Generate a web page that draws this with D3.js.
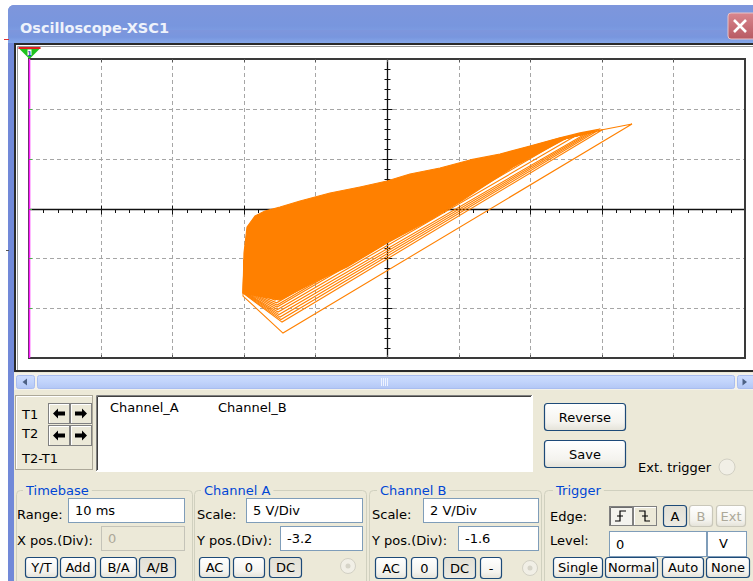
<!DOCTYPE html>
<html>
<head>
<meta charset="utf-8">
<title>Oscilloscope-XSC1</title>
<script src="https://cdn.jsdelivr.net/npm/d3@7"></script>
<style>
  html, body { margin: 0; padding: 0; background: #ffffff; }
  svg { display: block; font-family: "DejaVu Sans", Verdana, sans-serif; }
</style>
</head>
<body>
<svg id="scope" width="753" height="581"></svg>
<script>
// ---- screen graticule (divisions) ----
const xDivs = [-5, -4, -3, -2, -1, 0, 1, 2, 3, 4, 5];
const yDivs = [-3, -2, -1, 0, 1, 2, 3];

// ---- A/B trace, in divisions ----
// outline of the band where the sweeps overlap into a solid area
const bandX = [-1.955, -1.844, -1.704, -1.494, -1.215, -0.796, -0.377, 0.000, 0.321, 0.740, 1.159, 1.578, 1.997, 2.416, 2.696, 2.975,
               2.514, 1.760, 1.061, 0.601, 0.000, -0.559, -1.034, -1.494, -2.011, -1.997];
const bandY = [-0.371, -0.151, -0.050, 0.030, 0.151, 0.311, 0.432, 0.552, 0.693, 0.813, 0.974, 1.094, 1.255, 1.416, 1.516, 1.596,
               1.416, 0.833, 0.171, -0.231, -0.693, -1.175, -1.496, -1.837, -1.697, -0.894];

// separate sweeps: left edge top, left edge bottom, lowest corner, peak, return point, back to start
const sweepX = [
  [-1.997, -2.011, -1.453, 3.422, 2.416, -1.955],
  [-1.997, -2.011, -1.466, 3.003, 2.416, -1.955],
  [-1.995, -2.008, -1.480, 2.933, 2.400, -1.955],
  [-1.990, -2.004, -1.494, 2.877, 2.380, -1.955],
  [-1.990, -2.004, -1.508, 2.835, 2.370, -1.955],
  [-1.990, -2.004, -1.522, 2.793, 2.350, -1.955],
  [-1.988, -2.002, -1.529, 2.654, 2.320, -1.955],
  [-1.985, -2.000, -1.536, 2.514, 2.300, -1.955],
  [-1.985, -1.999, -1.536, 2.444, 2.250, -1.955],
  [-1.985, -1.997, -1.541, 2.370, 2.200, -1.955],
  [-1.980, -1.995, -1.564, 2.230, 2.100, -1.955],
  [-1.980, -1.990, -1.588, 1.997, 1.900, -1.955]
];
const sweepY = [
  [-1.034, -1.757, -2.500, 1.697, 1.416, -0.371],
  [-1.034, -1.697, -2.279, 1.576, 1.376, -0.371],
  [-1.020, -1.690, -2.229, 1.556, 1.370, -0.371],
  [-1.000, -1.680, -2.179, 1.536, 1.360, -0.371],
  [-0.990, -1.670, -2.129, 1.526, 1.355, -0.371],
  [-0.980, -1.660, -2.078, 1.516, 1.350, -0.371],
  [-0.970, -1.650, -2.028, 1.476, 1.340, -0.371],
  [-0.960, -1.640, -1.978, 1.436, 1.330, -0.371],
  [-0.955, -1.630, -1.938, 1.416, 1.310, -0.371],
  [-0.950, -1.620, -1.892, 1.375, 1.290, -0.371],
  [-0.940, -1.600, -1.837, 1.321, 1.250, -0.371],
  [-0.930, -1.580, -1.771, 1.241, 1.180, -0.371]
];

// ---- instrument settings shown in the panel ----
const timebase = { range: "10 ms", xpos: "0" };
const channelA = { scale: "5  V/Div", ypos: "-3.2" };
const channelB = { scale: "2  V/Div", ypos: "-1.6" };
const trigger  = { level: "0", unit: "V" };
const readoutCols = ["Channel_A", "Channel_B"];

const svg = d3.select("#scope");
const defs = svg.append("defs");

function vGrad(id, stops) {
  const g = defs.append("linearGradient").attr("id", id).attr("x1", 0).attr("y1", 0).attr("x2", 0).attr("y2", 1);
  stops.forEach(s => g.append("stop").attr("offset", s[0]).attr("stop-color", s[1]));
}
vGrad("title", [[0, "#7e96dc"], [0.55, "#7896de"], [1, "#86a8ea"]]);
vGrad("btn", [[0, "#ffffff"], [0.7, "#f4f3ee"], [1, "#e4e2d8"]]);
vGrad("btnDown", [[0, "#e2e0d6"], [1, "#eceae2"]]);
vGrad("scroll", [[0, "#cddcfd"], [0.5, "#c1d3fb"], [1, "#b3c7f5"]]);
vGrad("closeBtn", [[0, "#d9868e"], [1, "#b85a63"]]);

// ---- window chrome ----
svg.append("rect").attr("x", 8).attr("y", 5).attr("width", 760).attr("height", 590).attr("rx", 6).attr("fill", "#7189d8");
svg.append("rect").attr("x", 8).attr("y", 5).attr("width", 760).attr("height", 38).attr("rx", 6).attr("fill", "url(#title)");
svg.append("rect").attr("x", 8).attr("y", 30).attr("width", 760).attr("height", 13).attr("fill", "url(#title)");
svg.append("text").attr("x", 20).attr("y", 33).attr("fill", "#eef2fb")
  .attr("font-size", 14.5).attr("font-weight", "bold").text("Oscilloscope-XSC1");
// close box
svg.append("rect").attr("x", 728).attr("y", 13).attr("width", 28).attr("height", 26).attr("rx", 3)
  .attr("fill", "url(#closeBtn)").attr("stroke", "#e8c4c8").attr("stroke-width", 1);
svg.append("path").attr("d", "M734,20 L746,32 M746,20 L734,32").attr("stroke", "#ffffff").attr("stroke-width", 2.6);
// small marks outside the window
svg.append("line").attr("x1", 4).attr("x2", 9).attr("y1", 39.5).attr("y2", 39.5).attr("stroke", "#e03030");
svg.append("line").attr("x1", 6).attr("x2", 9).attr("y1", 250.5).attr("y2", 250.5).attr("stroke", "#555");

// client area
svg.append("rect").attr("x", 14).attr("y", 43).attr("width", 745).attr("height", 545).attr("fill", "#ece9d8");

// ---- display frame ----
svg.append("rect").attr("x", 15).attr("y", 44).attr("width", 745).attr("height", 327)
  .attr("fill", "#ffffff").attr("stroke", "#2a2a2a").attr("stroke-width", 2);
svg.append("path").attr("d", "M17.5,370 V46.5 H760").attr("fill", "none").attr("stroke", "#9a9a9a").attr("stroke-width", 1);

const x = d3.scaleLinear().domain([-5, 5]).range([29, 745]);
const y = d3.scaleLinear().domain([-3, 3]).range([358, 59]);

const plot = svg.append("g");

// dashed graticule
plot.selectAll("line.gx").data(xDivs.filter(d => Math.abs(d) < 5 && d !== 0)).join("line")
  .attr("x1", d => Math.round(x(d)) + 0.5).attr("x2", d => Math.round(x(d)) + 0.5)
  .attr("y1", y(3)).attr("y2", y(-3))
  .attr("stroke", "#a6a6a6").attr("stroke-dasharray", "4,3");
plot.selectAll("line.gy").data(yDivs.filter(d => Math.abs(d) < 3 && d !== 0)).join("line")
  .attr("y1", d => Math.round(y(d)) + 0.5).attr("y2", d => Math.round(y(d)) + 0.5)
  .attr("x1", x(-5)).attr("x2", x(5))
  .attr("stroke", "#a6a6a6").attr("stroke-dasharray", "4,3");

// centre axes with minor ticks every 0.2 division
const isMajor = d => Math.abs(d - Math.round(d)) < 1e-6;
const x0 = Math.round(x(0)) + 0.5, y0 = Math.round(y(0)) + 0.5;
plot.append("line").attr("x1", x(-5)).attr("x2", x(5)).attr("y1", y0).attr("y2", y0).attr("stroke", "#111").attr("stroke-width", 1.3);
plot.append("line").attr("x1", x0).attr("x2", x0).attr("y1", y(3)).attr("y2", y(-3)).attr("stroke", "#111").attr("stroke-width", 1.3);
const minorX = d3.range(-25, 26).map(i => i / 5);
const minorY = d3.range(-15, 16).map(i => i / 5);
plot.selectAll("line.tx").data(minorX).join("line")
  .attr("x1", d => Math.round(x(d)) + 0.5).attr("x2", d => Math.round(x(d)) + 0.5)
  .attr("y1", d => isMajor(d) ? y0 - 4 : y0)
  .attr("y2", d => isMajor(d) ? y0 + 5 : y0 + 3.5)
  .attr("stroke", "#111");
plot.selectAll("line.ty").data(minorY).join("line")
  .attr("y1", d => Math.round(y(d)) + 0.5).attr("y2", d => Math.round(y(d)) + 0.5)
  .attr("x1", d => isMajor(d) ? x0 - 5 : x0 - 3)
  .attr("x2", d => isMajor(d) ? x0 + 5 : x0 + 3)
  .attr("stroke", "#111");

// frame with small division marks
plot.append("rect").attr("x", x(-5)).attr("y", y(3)).attr("width", x(5) - x(-5)).attr("height", y(-3) - y(3))
  .attr("fill", "none").attr("stroke", "#3a3a3a").attr("stroke-width", 2);
plot.selectAll("line.fx").data(xDivs.slice(1, -1)).join("line")
  .attr("x1", d => Math.round(x(d)) + 0.5).attr("x2", d => Math.round(x(d)) + 0.5)
  .attr("y1", y(3)).attr("y2", y(3) + 3).attr("stroke", "#555");
plot.selectAll("line.fx2").data(xDivs.slice(1, -1)).join("line")
  .attr("x1", d => Math.round(x(d)) + 0.5).attr("x2", d => Math.round(x(d)) + 0.5)
  .attr("y1", y(-3)).attr("y2", y(-3) - 3).attr("stroke", "#555");

// cursor 1 (magenta) at the left edge
plot.append("line").attr("x1", x(-5) + 0.5).attr("x2", x(-5) + 0.5).attr("y1", y(3)).attr("y2", y(-3))
  .attr("stroke", "#ff1aff").attr("stroke-width", 1.6);
plot.selectAll("line.cm").data(yDivs.slice(1, -1)).join("line")
  .attr("x1", x(-5)).attr("x2", x(-5) + 3)
  .attr("y1", d => Math.round(y(d)) + 0.5).attr("y2", d => Math.round(y(d)) + 0.5).attr("stroke", "#44bb44");
const cx = x(-5) + 0.5;
svg.append("path").attr("d", `M${cx - 11},48 H${cx + 11} L${cx},59 Z`).attr("fill", "#1fc31f");
svg.append("rect").attr("x", cx - 11).attr("y", 47).attr("width", 22).attr("height", 2).attr("fill", "#e02020");
svg.append("rect").attr("x", cx - 2).attr("y", 49.5).attr("width", 4).attr("height", 6).attr("fill", "#ffffff");
svg.append("text").attr("x", cx).attr("y", 55.5).attr("text-anchor", "middle").attr("font-size", 6.5)
  .attr("font-weight", "bold").attr("fill", "#2040c0").text("1");

// ---- trace ----
const orange = "#ff8000";
const band = bandX.map((v, i) => [x(v), y(bandY[i])]);
plot.append("path").attr("d", d3.line()(band) + "Z")
  .attr("fill", orange).attr("stroke", orange).attr("stroke-width", 1.2).attr("stroke-linejoin", "round");
const sweeps = sweepX.map((xs, k) => xs.map((v, i) => [x(v), y(sweepY[k][i])]));
plot.selectAll("path.sweep").data(sweeps).join("path")
  .attr("d", d => d3.line()(d))
  .attr("fill", "none").attr("stroke", orange).attr("stroke-width", 1.1);

// ---- scroll bar ----
svg.append("rect").attr("x", 14).attr("y", 373).attr("width", 745).attr("height", 17).attr("fill", "#f3f1ea");
svg.append("rect").attr("x", 16.5).attr("y", 375.5).attr("width", 18).attr("height", 13).attr("rx", 2)
  .attr("fill", "url(#scroll)").attr("stroke", "#a9bdf0");
svg.append("path").attr("d", "M22.5,382 L27,378.5 V385.5 Z").attr("fill", "#4d6185");
svg.append("rect").attr("x", 37.5).attr("y", 375.5).attr("width", 697).attr("height", 13).attr("rx", 2)
  .attr("fill", "url(#scroll)").attr("stroke", "#a9bdf0");
[381, 383, 385, 387].forEach(g => svg.append("line").attr("x1", g + 0.5).attr("x2", g + 0.5).attr("y1", 378).attr("y2", 386).attr("stroke", "#eef3ff"));
svg.append("rect").attr("x", 737.5).attr("y", 375.5).attr("width", 18).attr("height", 13).attr("rx", 2)
  .attr("fill", "url(#scroll)").attr("stroke", "#a9bdf0");
svg.append("path").attr("d", "M747,382 L742.5,378.5 V385.5 Z").attr("fill", "#4d6185");

// ---- UI helpers ----
const FS = 13;
function label(t, px, py, color) {
  return svg.append("text").attr("x", px).attr("y", py).attr("font-size", FS).attr("fill", color || "#000").text(t);
}
function button(px, py, w, h, t, state) {
  const disabled = state === "disabled", down = state === "down";
  svg.append("rect").attr("x", px + 0.5).attr("y", py + 0.5).attr("width", w - 1).attr("height", h - 1).attr("rx", 3)
    .attr("fill", down ? "url(#btnDown)" : "url(#btn)")
    .attr("stroke", disabled ? "#c9c7ba" : "#1d4a78").attr("stroke-width", 1.2);
  if (t) svg.append("text").attr("x", px + w / 2).attr("y", py + h / 2 + 4.7).attr("text-anchor", "middle")
    .attr("font-size", FS).attr("fill", disabled ? "#aca899" : "#000").text(t);
}
function field(px, py, w, h, t, disabled) {
  svg.append("rect").attr("x", px + 0.5).attr("y", py + 0.5).attr("width", w - 1).attr("height", h - 1)
    .attr("fill", disabled ? "#ece9d8" : "#ffffff").attr("stroke", disabled ? "#c4c3b8" : "#7f9db9");
  svg.append("text").attr("x", px + 7).attr("y", py + h / 2 + 4.7).attr("font-size", FS)
    .attr("fill", disabled ? "#aca899" : "#000").text(t);
}
function group(px, w, t, tx) {
  svg.append("rect").attr("x", px + 0.5).attr("y", 490.5).attr("width", w).attr("height", 120).attr("rx", 4)
    .attr("fill", "none").attr("stroke", "#d0d0bf");
  const mask = svg.append("rect").attr("y", 486).attr("height", 8).attr("fill", "#ece9d8");
  const tt = svg.append("text").attr("x", tx).attr("y", 495).attr("font-size", FS).attr("fill", "#0046d5").text(t);
  const bw = tt.node().getComputedTextLength();
  mask.attr("x", tx - 3).attr("width", bw + 6);
}
function radio(px, py) {
  svg.append("circle").attr("cx", px).attr("cy", py).attr("r", 7.5).attr("fill", "#f1efe6").attr("stroke", "#d2d0c4");
  svg.append("circle").attr("cx", px).attr("cy", py).attr("r", 2.5).attr("fill", "#d6d4c8");
}

// ---- cursor box ----
svg.append("rect").attr("x", 15.5).attr("y", 395.5).attr("width", 77).attr("height", 74)
  .attr("fill", "#ece9d8").attr("stroke", "#aca899");
svg.append("path").attr("d", "M16.5,469 V396.5 H92").attr("fill", "none").attr("stroke", "#ffffff");
label("T1", 22, 419);
label("T2", 22, 438);
label("T2-T1", 22, 463);
function arrowBtn(px, py, dir) {
  svg.append("rect").attr("x", px + 0.5).attr("y", py + 0.5).attr("width", 21).attr("height", 20)
    .attr("fill", "#ece9d8").attr("stroke", "#808080");
  svg.append("path").attr("d", `M${px + 1.5},${py + 20} V${py + 1.5} H${px + 21}`).attr("fill", "none").attr("stroke", "#ffffff");
  const mx = px + 11, my = py + 10.5;
  const d = dir < 0
    ? `M${mx - 6},${my} L${mx - 1},${my - 5} V${my - 2} H${mx + 6} V${my + 2} H${mx - 1} V${my + 5} Z`
    : `M${mx + 6},${my} L${mx + 1},${my - 5} V${my - 2} H${mx - 6} V${my + 2} H${mx + 1} V${my + 5} Z`;
  svg.append("path").attr("d", d).attr("fill", "#000");
}
arrowBtn(48, 403, -1); arrowBtn(70, 403, 1);
arrowBtn(48, 425, -1); arrowBtn(70, 425, 1);

// ---- readout table ----
svg.append("rect").attr("x", 96.5).attr("y", 395.5).attr("width", 436).attr("height", 76)
  .attr("fill", "#ffffff").attr("stroke", "#ffffff");
svg.append("path").attr("d", "M96.5,471 V395.5 H532").attr("fill", "none").attr("stroke", "#808080");
svg.append("path").attr("d", "M97.5,470 V396.5 H531").attr("fill", "none").attr("stroke", "#404040");
readoutCols.forEach((t, i) => label(t, [110, 218][i], 412));

// ---- side buttons ----
button(544, 403, 82, 28, "Reverse");
button(544, 440, 82, 28, "Save");
label("Ext. trigger", 638, 472);
svg.append("circle").attr("cx", 727).attr("cy", 467).attr("r", 8).attr("fill", "#f1efe6").attr("stroke", "#d2d0c4");

// ---- Timebase ----
group(16, 176, "Timebase", 26);
label("Range:", 17, 519);
field(68, 498, 117, 25, timebase.range);
label("X pos.(Div):", 17, 545);
field(101, 526, 84, 25, timebase.xpos, true);
button(25, 557, 33, 21, "Y/T");
button(60, 557, 36, 21, "Add");
button(100, 557, 37, 21, "B/A");
button(139, 557, 37, 21, "A/B", "down");

// ---- Channel A ----
group(194, 172, "Channel A", 204);
label("Scale:", 197, 519);
field(246, 498, 117, 25, channelA.scale);
label("Y pos.(Div):", 197, 545);
field(280, 526, 83, 25, channelA.ypos);
button(199, 557, 31, 21, "AC");
button(233, 557, 32, 21, "0");
button(269, 557, 33, 21, "DC", "down");
radio(348, 566);

// ---- Channel B ----
group(369, 172, "Channel B", 380);
label("Scale:", 372, 519);
field(423, 498, 116, 25, channelB.scale);
label("Y pos.(Div):", 372, 545);
field(458, 526, 81, 25, channelB.ypos);
button(375, 557, 32, 22, "AC");
button(411, 557, 27, 22, "0");
button(443, 557, 33, 22, "DC", "down");
button(480, 557, 22, 22, "-");
radio(530, 568);

// ---- Trigger ----
group(544, 215, "Trigger", 556);
label("Edge:", 550, 521);
// edge selectors
svg.append("rect").attr("x", 609.5).attr("y", 506.5).attr("width", 23).attr("height", 19).attr("fill", "#f4f3ee").attr("stroke", "#808080");
svg.append("path").attr("d", "M610.5,525 V507.5 H632").attr("fill", "none").attr("stroke", "#6d6d6d");
svg.append("path").attr("d", "M615,521 H620 V511 H626 M617,516 H623").attr("fill", "none").attr("stroke", "#000").attr("stroke-width", 1.2);
svg.append("rect").attr("x", 633.5).attr("y", 506.5).attr("width", 23).attr("height", 19).attr("fill", "#ece9d8").attr("stroke", "#808080");
svg.append("path").attr("d", "M634.5,525 V507.5 H656").attr("fill", "none").attr("stroke", "#ffffff");
svg.append("path").attr("d", "M639,511 H645 V521 H650 M642,516 H648").attr("fill", "none").attr("stroke", "#000").attr("stroke-width", 1.2);
button(663, 505, 24, 22, "A", "down");
button(689, 505, 24, 22, "B", "disabled");
button(716, 505, 30, 22, "Ext", "disabled");
label("Level:", 550, 545);
field(609, 531, 98, 26, trigger.level);
field(707, 531, 40, 26, "");
label(trigger.unit, 719, 548);
button(553, 557, 50, 21, "Single");
button(605, 557, 53, 21, "Normal");
button(662, 557, 42, 21, "Auto");
button(706, 557, 44, 21, "None");
</script>
</body>
</html>
